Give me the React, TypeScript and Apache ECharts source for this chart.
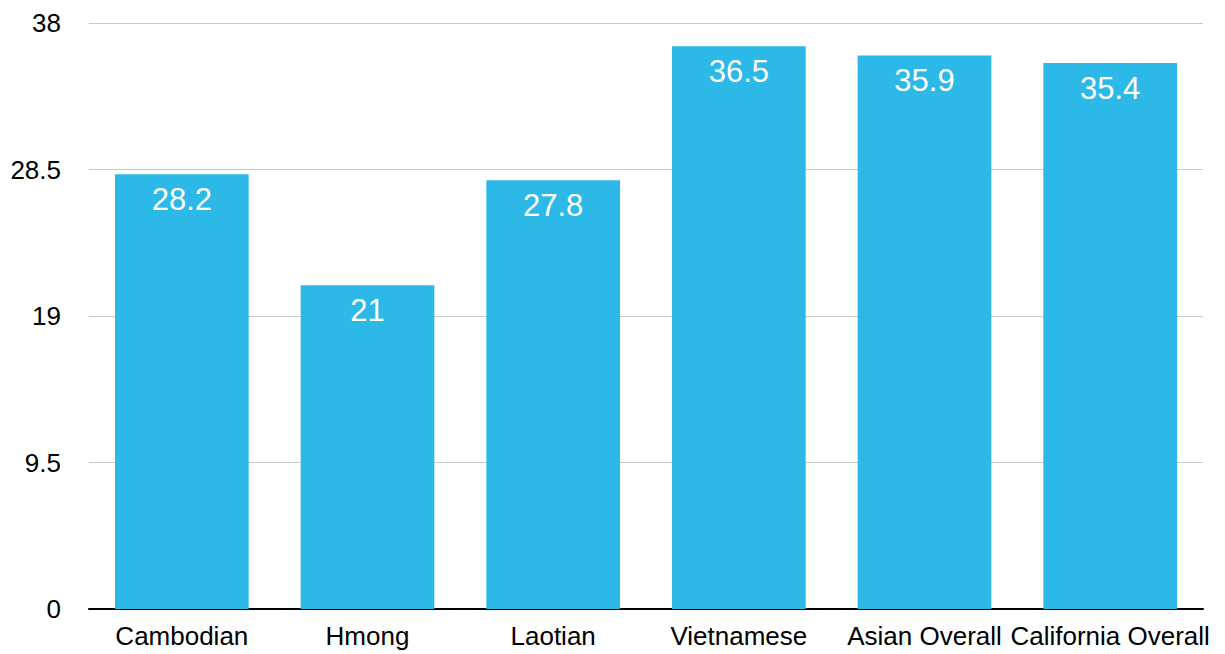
import React, { useEffect, useRef } from "react";
import * as echarts from "echarts";

const categories = ["Cambodian", "Hmong", "Laotian", "Vietnamese", "Asian Overall", "California Overall"];
const values = [28.2, 21, 27.8, 36.5, 35.9, 35.4];
const yMin = 0;
const yMax = 38;
const yInterval = 9.5;

export default function App() {
  const ref = useRef<HTMLDivElement>(null);
  useEffect(() => {
    if (!ref.current) return;
    const chart = echarts.init(ref.current, null, { renderer: "svg" });
    chart.setOption({
      animation: false,
      backgroundColor: "#ffffff",
      grid: { left: 89, right: 22, top: 23, bottom: 45, containLabel: false },
      xAxis: {
        type: "category",
        data: categories,
        axisLine: { lineStyle: { color: "#000000", width: 2 } },
        axisTick: { show: false },
        axisLabel: {
          color: "#000000",
          fontSize: 26,
          fontFamily: "Liberation Sans, Arial, sans-serif",
          margin: 14,
          interval: 0,
        },
      },
      yAxis: {
        type: "value",
        min: yMin,
        max: yMax,
        interval: yInterval,
        axisLine: { show: false },
        axisTick: { show: false },
        splitLine: { lineStyle: { color: "#c8c8c8", width: 1 } },
        axisLabel: {
          color: "#000000",
          fontSize: 26,
          fontFamily: "Liberation Sans, Arial, sans-serif",
          margin: 28,
        },
      },
      series: [
        {
          type: "bar",
          data: values,
          barWidth: "72%",
          itemStyle: { color: "#2cb9e7" },
          label: {
            show: true,
            position: "insideTop",
            distance: 10,
            color: "#ffffff",
            fontSize: 31,
            fontFamily: "Liberation Sans, Arial, sans-serif",
          },
        },
      ],
    });
    return () => chart.dispose();
  }, []);
  return (
    <div
      ref={ref}
      style={{ position: "fixed", left: 0, top: 0, width: 1225, height: 654, background: "#fff" }}
    />
  );
}
